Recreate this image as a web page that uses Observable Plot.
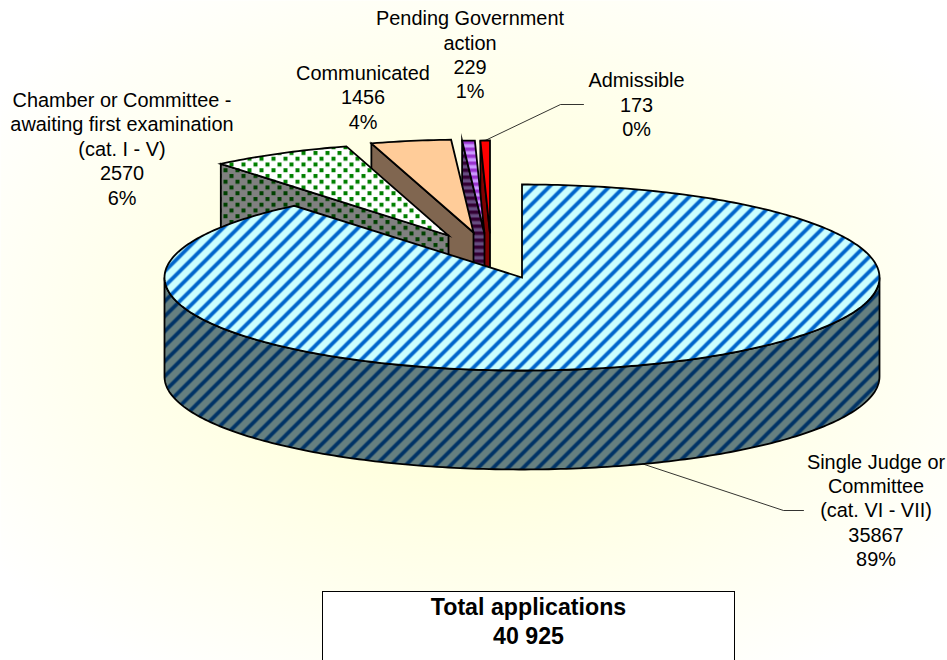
<!DOCTYPE html>
<html>
<head>
<meta charset="utf-8">
<script src="https://cdn.jsdelivr.net/npm/d3@7"></script>
<script src="https://cdn.jsdelivr.net/npm/@observablehq/plot@0.6"></script>
<style>
  html, body { margin: 0; padding: 0; background: #fff; }
  svg { display: block; }
</style>
</head>
<body>
<div id="chart"></div>
<script>
// ---------- data ----------
const categories = ["Single Judge or\nCommittee\n(cat. VI - VII)", "Chamber or Committee -\nawaiting first examination\n(cat. I - V)", "Communicated", "Pending Government\naction", "Admissible"];
const values = [35867, 2570, 1456, 229, 173];
const percents = ["89%", "6%", "4%", "1%", "0%"];
const totalLabel = "Total applications\n40 925";

// ---------- layout (chart units, one unit = one pixel) ----------
const W = 947, H = 660;
const cx = 521.5, cy = 277, rx = 357.5, ry = 93, depth = 99;
const explodeX = [0, -73.5, -48.5, -37.5, -32];
const explodeY = [0, -42, -45, -44, -44];
const labelX = [875.5, 121.5, 362.5, 469.5, 636];
const labelY = [509, 147.5, 96, 53.5, 103.5];
const topFills = ["url(#mainTop)", "url(#dotTop)", "#FFCC99", "url(#purpleTop)", "#FF0000"];
const wallFills = ["url(#mainWall)", "url(#dotWall)", "#806650", "url(#purpleWall)", "#800000"];

// ---------- geometry derived from the values ----------
const sum = d3.sum(values);
let acc = 0;
const slices = values.map((v, i) => {
  const a0 = acc / sum * 2 * Math.PI;
  acc += v;
  const a1 = acc / sum * 2 * Math.PI;
  return {i, a0, a1, ax: cx + explodeX[i], ay: cy + explodeY[i]};
});
const onRim = (s, a, dz = 0) => ({x: s.ax + rx * Math.sin(a), y: s.ay - ry * Math.cos(a) + dz});
const arc = (s, a0, a1, dz = 0) => {
  const n = Math.max(2, Math.ceil(Math.abs(a1 - a0) * 60));
  return d3.range(n + 1).map(k => onRim(s, a0 + (a1 - a0) * k / n, dz));
};
const topFace = s => [{x: s.ax, y: s.ay}, ...arc(s, s.a0, s.a1)];
const radialWall = s => [onRim(s, s.a0), {x: s.ax, y: s.ay}, {x: s.ax, y: s.ay + depth}, onRim(s, s.a0, depth)];
const frontWall = s => [...arc(s, Math.PI / 2, 3 * Math.PI / 2), ...arc(s, 3 * Math.PI / 2, Math.PI / 2, depth)];

const poly = (pts, fill) => Plot.line(pts, {
  x: "x", y: "y", fill, stroke: "#000", strokeWidth: 1.8,
  curve: "linear-closed", strokeLinejoin: "miter", strokeMiterlimit: 10
});

const sliceMarks = [];
[4, 3, 2, 1].forEach(i => {
  sliceMarks.push(poly(radialWall(slices[i]), wallFills[i]));
  sliceMarks.push(poly(topFace(slices[i]), topFills[i]));
});
sliceMarks.push(poly(frontWall(slices[0]), wallFills[0]));
sliceMarks.push(poly(topFace(slices[0]), topFills[0]));

// leader lines start on the slice's mid-angle rim point
const mid = s => (s.a0 + s.a1) / 2;
const leaderMain = [onRim(slices[0], mid(slices[0]), depth), {x: 783, y: 510}, {x: 803, y: 510}];
const leaderAdm = [onRim(slices[4], mid(slices[4])), {x: 560, y: 104}, {x: 583, y: 104}];

const labelRows = categories.map((c, i) => ({
  text: `${c}\n${values[i]}\n${percents[i]}`, x: labelX[i], y: labelY[i]
}));

const chart = Plot.plot({
  width: W, height: H,
  margin: 0,
  x: {domain: [0, W], axis: null},
  y: {domain: [H, 0], axis: null},
  style: {fontFamily: "'Liberation Sans', Arial, sans-serif", background: "#fff"},
  marks: [
    Plot.frame({fill: "url(#bg)", stroke: "none"}),
    ...sliceMarks,
    Plot.line(leaderMain, {x: "x", y: "y", stroke: "#000", strokeWidth: 0.8}),
    Plot.line(leaderAdm, {x: "x", y: "y", stroke: "#000", strokeWidth: 0.8}),
    Plot.text(labelRows, {
      x: "x", y: "y", text: "text", fontSize: 19.9, lineHeight: 1.226,
      fill: "#000", textAnchor: "middle"
    }),
    Plot.rect([{x1: 322.5, x2: 734.5, y1: 591.5, y2: 665}], {
      x1: "x1", x2: "x2", y1: "y1", y2: "y2", fill: "#fff", stroke: "#000", strokeWidth: 1
    }),
    Plot.text([totalLabel], {
      x: () => 528, y: () => 619.5, text: d => d, fontSize: 23.2, fontWeight: "bold",
      lineHeight: 1.25, fill: "#000", textAnchor: "middle"
    })
  ]
});

// fills: gradient backdrop and the hatch patterns
const defs = d3.select(chart).insert("defs", ":first-child");
const bg = defs.append("radialGradient").attr("id", "bg").attr("cx", 0.5).attr("cy", 0.5).attr("r", 0.62);
bg.append("stop").attr("offset", 0).attr("stop-color", "#FFFFCC");
bg.append("stop").attr("offset", 0.5).attr("stop-color", "#FFFFE6");
bg.append("stop").attr("offset", 1).attr("stop-color", "#FFFFFF");

function stripes(id, base, ink) {
  const s = 15;
  const p = defs.append("pattern").attr("id", id).attr("patternUnits", "userSpaceOnUse")
    .attr("width", s).attr("height", s);
  p.append("rect").attr("width", s).attr("height", s).attr("fill", base);
  p.append("path").attr("d", `M-4,4L4,-4M0,${s}L${s},0M${s - 4},${s + 4}L${s + 4},${s - 4}`)
    .attr("stroke", ink).attr("stroke-width", 3.8).attr("fill", "none");
}
stripes("mainTop", "#CCFFFF", "#0066CC");
stripes("mainWall", "#668080", "#003366");

function dots(id, base, ink) {
  const p = defs.append("pattern").attr("id", id).attr("patternUnits", "userSpaceOnUse")
    .attr("width", 12).attr("height", 11.5);
  p.append("rect").attr("width", 12).attr("height", 11.5).attr("fill", base);
  p.append("rect").attr("x", 1).attr("y", 1).attr("width", 4).attr("height", 4).attr("fill", ink);
  p.append("rect").attr("x", 7).attr("y", 6.75).attr("width", 4).attr("height", 4).attr("fill", ink);
}
dots("dotTop", "#FFFFFF", "#008000");
dots("dotWall", "#808080", "#004000");

function bands(id, base, ink) {
  const p = defs.append("pattern").attr("id", id).attr("patternUnits", "userSpaceOnUse")
    .attr("width", 7).attr("height", 7);
  p.append("rect").attr("width", 7).attr("height", 7).attr("fill", base);
  p.append("rect").attr("width", 7).attr("height", 3.5).attr("fill", ink);
}
bands("purpleTop", "#CC99FF", "#9933CC");
bands("purpleWall", "#664D80", "#330033");

document.getElementById("chart").appendChild(chart);
</script>
</body>
</html>
